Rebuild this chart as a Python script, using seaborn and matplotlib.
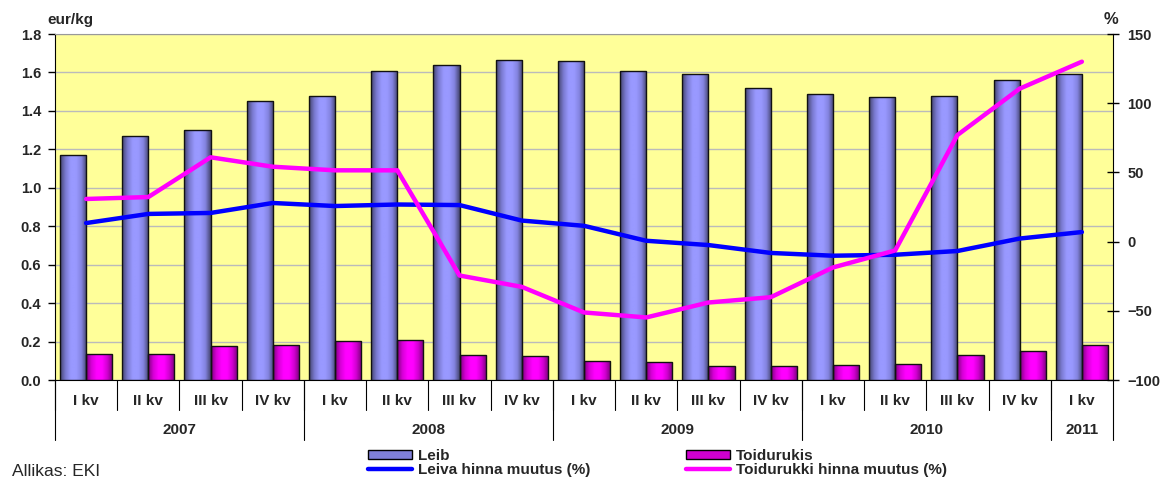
import numpy as np
import pandas as pd
import matplotlib
matplotlib.use("Agg")
import matplotlib.pyplot as plt
import matplotlib.transforms as mtransforms
from matplotlib.colors import LinearSegmentedColormap
from matplotlib.ticker import FormatStrFormatter, MultipleLocator
from matplotlib.patches import Patch
from matplotlib.lines import Line2D
import seaborn as sns

# data
quarters = ["I kv", "II kv", "III kv", "IV kv"] * 4 + ["I kv"]
years = ["2007", "2008", "2009", "2010", "2011"]
year_counts = [4, 4, 4, 4, 1]
leib = [1.17, 1.27, 1.30, 1.45, 1.48, 1.61, 1.64, 1.665, 1.66, 1.61, 1.59, 1.52,
        1.49, 1.47, 1.48, 1.56, 1.59]
toidurukis = [0.135, 0.135, 0.177, 0.182, 0.203, 0.208, 0.130, 0.123, 0.099, 0.092,
              0.071, 0.071, 0.078, 0.085, 0.130, 0.149, 0.182]
leiva_muutus = [13.4, 20.0, 20.7, 27.9, 25.7, 26.8, 26.4, 15.2, 11.4, 0.6, -2.5, -8.2,
                -10.2, -9.5, -6.8, 2.2, 6.9]
toidurukki_muutus = [30.8, 32.2, 60.9, 54.1, 51.5, 51.5, -24.5, -32.7, -51.2, -54.8,
                     -44.0, -40.2, -18.7, -6.4, 77.0, 110.5, 130.0]

pos = np.arange(len(quarters))
df = pd.DataFrame({
    "pos": np.concatenate([pos, pos]),
    "value": leib + toidurukis,
    "series": ["Leib"] * len(pos) + ["Toidurukis"] * len(pos),
})

sns.set_style("white")
plt.rcParams["font.family"] = ["Liberation Sans", "DejaVu Sans"]

fig = plt.figure(figsize=(11.6, 4.8), dpi=100)
ax = fig.add_axes([55 / 1160, 100 / 480, 1058 / 1160, 346 / 480])
ax.set_facecolor("#FFFF99")

sns.barplot(data=df, x="pos", y="value", hue="series", hue_order=["Leib", "Toidurukis"],
            palette=["#9999FF", "#FF00FF"], width=0.84, dodge=True, ax=ax,
            legend=False, edgecolor="black", linewidth=1.0, zorder=3)

# cylinder-like shading on the bars
cmaps = [
    LinearSegmentedColormap.from_list("leib", ["#454570", "#7a7ad0", "#9999ff", "#9999ff",
                                               "#8484e0", "#454570"]),
    LinearSegmentedColormap.from_list("toid", ["#800080", "#d800d8", "#ff00ff", "#ff00ff",
                                               "#d000d0", "#780078"]),
]
grad = np.linspace(0, 1, 64).reshape(1, -1)
for cont, cmap in zip(ax.containers, cmaps):
    for bar in cont:
        x, y = bar.get_xy()
        w, h = bar.get_width(), bar.get_height()
        im = ax.imshow(grad, extent=[x, x + w, y, y + h], cmap=cmap, aspect="auto",
                       zorder=2.9, interpolation="bilinear")
        im.set_clip_path(bar)
        bar.set_facecolor("none")
        bar.set_edgecolor("#111111")

ax.set_xlim(-0.5, len(pos) - 0.5)
ax.set_ylim(0, 1.8)
ax.yaxis.set_major_locator(MultipleLocator(0.2))
ax.yaxis.set_major_formatter(FormatStrFormatter("%.1f"))
ax.grid(axis="y", color="#BBBBBB", linewidth=1.0, zorder=1)
ax.set_axisbelow(True)
ax.set_xlabel("")
ax.set_ylabel("")
ax.set_xticks([])
ax.tick_params(axis="y", direction="out", length=5, width=1, color="black",
               labelsize=10.5, pad=5)
for lab in ax.get_yticklabels():
    lab.set_fontweight("bold")
ax.spines["top"].set_color("#999999")
ax.spines["left"].set_color("black")
ax.spines["bottom"].set_color("black")
ax.spines["right"].set_visible(False)

ax2 = ax.twinx()
sns.lineplot(x=pos, y=leiva_muutus, ax=ax2, color="#0000FF", linewidth=3.2, zorder=5)
sns.lineplot(x=pos, y=toidurukki_muutus, ax=ax2, color="#FF00FF", linewidth=3.2, zorder=5)
ax2.set_ylim(-100, 150)
ax2.yaxis.set_major_locator(MultipleLocator(50))
ax2.set_ylabel("")
ax2.tick_params(axis="y", direction="inout", length=9, width=1, color="black",
                labelsize=10.5, pad=6)
for lab in ax2.get_yticklabels():
    lab.set_fontweight("bold")
for s in ["top", "left", "bottom"]:
    ax2.spines[s].set_visible(False)
ax2.spines["right"].set_color("black")
ax.set_xlim(-0.5, len(pos) - 0.5)

# two-level category axis
trans = mtransforms.blended_transform_factory(ax.transData, ax.transAxes)
for i, q in enumerate(quarters):
    ax.text(i, -0.06, q, transform=trans, ha="center", va="center",
            fontsize=11, fontweight="bold")
    ax.plot([i - 0.5, i - 0.5], [0, -0.087], transform=trans, color="black",
            lw=0.8, clip_on=False)
ax.plot([len(pos) - 0.5] * 2, [0, -0.173], transform=trans, color="black",
        lw=0.8, clip_on=False)
start = 0
for yr, n in zip(years, year_counts):
    ax.text(start + (n - 1) / 2, -0.145, yr, transform=trans, ha="center",
            va="center", fontsize=11, fontweight="bold")
    ax.plot([start - 0.5, start - 0.5], [0, -0.173], transform=trans, color="black",
            lw=0.8, clip_on=False)
    start += n

fig.text(47 / 1160, 1 - 20 / 480, "eur/kg", fontsize=11, fontweight="bold",
         ha="left", va="center")
fig.text(1104 / 1160, 1 - 19 / 480, "%", fontsize=12, fontweight="bold",
         ha="left", va="center")
fig.text(12 / 1160, 1 - 471 / 480, "Allikas: EKI", fontsize=12.5,
         ha="left", va="center")

handles = [
    Patch(facecolor="#8080d8", edgecolor="black", linewidth=1.0),
    Line2D([0], [0], color="#0000FF", lw=3.2),
    Patch(facecolor="#d000d0", edgecolor="black", linewidth=1.0),
    Line2D([0], [0], color="#FF00FF", lw=3.2),
]
labels = ["Leib", "Leiva hinna muutus (%)", "Toidurukis", "Toidurukki hinna muutus (%)"]
leg = fig.legend(handles, labels, ncol=2, loc="upper left",
                 bbox_to_anchor=(368 / 1160, 1 - 449 / 480), frameon=False,
                 prop={"weight": "bold", "size": 11}, handlelength=2.9,
                 handleheight=0.5, handletextpad=0.4, labelspacing=0.02,
                 columnspacing=6.2, borderpad=0, borderaxespad=0)

fig.savefig("out.png", dpi=100)
